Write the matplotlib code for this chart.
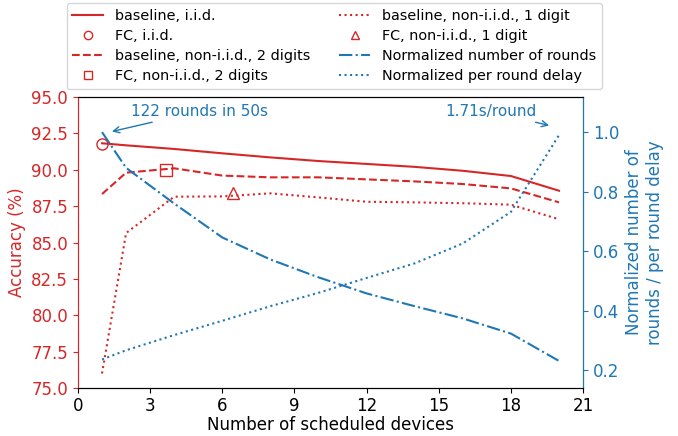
import matplotlib
matplotlib.use("Agg")
import matplotlib.pyplot as plt

# number of scheduled devices
dispositivos = [1, 2, 4, 6, 8, 10, 12, 14, 16, 18, 20]

acc_iid = [91.82, 91.68, 91.43, 91.13, 90.85, 90.6, 90.4, 90.2, 89.93, 89.57, 88.56]
acc_2dig = [88.33, 89.8, 90.1, 89.6, 89.48, 89.48, 89.34, 89.2, 89.02, 88.72, 87.76]
acc_1dig = [76.0, 85.65, 88.15, 88.17, 88.38, 88.1, 87.8, 87.76, 87.7, 87.6, 86.6]

rondas_norm = [1.0, 0.88, 0.76, 0.646, 0.572, 0.512, 0.458, 0.415, 0.374, 0.323, 0.231]
retardo_norm = [0.236, 0.267, 0.318, 0.366, 0.415, 0.46, 0.51, 0.559, 0.626, 0.732, 0.99]

# FC points
fc_iid = (1, 91.8)
fc_2dig = (3.66, 90.0)
fc_1dig = (6.46, 88.4)

rojo = "#d62728"
azul = "#1f77b4"

fig = plt.figure(figsize=(6.78, 4.36), dpi=100)
ax = fig.add_axes([0.115, 0.110, 0.745, 0.6675])
ax2 = ax.twinx()

l1, = ax.plot(dispositivos, acc_iid, color=rojo, ls="-", lw=1.5, label="baseline, i.i.d.")
m1, = ax.plot([fc_iid[0]], [fc_iid[1]], color=rojo, ls="none", marker="o", ms=8,
              mfc="none", label="FC, i.i.d.")
l2, = ax.plot(dispositivos, acc_2dig, color=rojo, ls="--", lw=1.5,
              label="baseline, non-i.i.d., 2 digits")
m2, = ax.plot([fc_2dig[0]], [fc_2dig[1]], color=rojo, ls="none", marker="s", ms=8,
              mfc="none", label="FC, non-i.i.d., 2 digits")
l3, = ax.plot(dispositivos, acc_1dig, color=rojo, ls=":", lw=1.5,
              label="baseline, non-i.i.d., 1 digit")
m3, = ax.plot([fc_1dig[0]], [fc_1dig[1]], color=rojo, ls="none", marker="^", ms=8,
              mfc="none", label="FC, non-i.i.d., 1 digit")

l4, = ax2.plot(dispositivos, rondas_norm, color=azul, ls="-.", lw=1.5,
               label="Normalized number of rounds")
l5, = ax2.plot(dispositivos, retardo_norm, color=azul, ls=":", lw=1.5,
               label="Normalized per round delay")

ax.set_xlim(0, 21)
ax.set_xticks(range(0, 22, 3))
ax.set_ylim(75, 95)
ax.set_yticks([75 + 2.5 * i for i in range(9)])
ax.set_yticklabels([f"{75 + 2.5 * i:.1f}" for i in range(9)])
ax2.set_ylim(0.14, 1.118)
ax2.set_yticks([0.2, 0.4, 0.6, 0.8, 1.0])

ax.set_xlabel("Number of scheduled devices", fontsize=12, labelpad=1)
ax.set_ylabel("Accuracy (%)", color=rojo, fontsize=12)
ax2.set_ylabel("Normalized number of\nrounds / per round delay", color=azul, fontsize=12)

ax.tick_params(axis="x", labelsize=12, pad=3)
ax.tick_params(axis="y", colors=rojo, labelsize=12)
ax2.tick_params(axis="y", colors=azul, labelsize=12)
ax.spines["left"].set_color(rojo)
ax2.spines["left"].set_color(rojo)
ax2.spines["right"].set_color(azul)

ax2.annotate("122 rounds in 50s", xy=(1.3, 1.0), xytext=(2.2, 1.07),
             color=azul, fontsize=11, va="center",
             arrowprops=dict(arrowstyle="->", color=azul, lw=1))
ax2.annotate("1.71s/round", xy=(19.7, 1.02), xytext=(15.26, 1.07),
             color=azul, fontsize=11, va="center",
             arrowprops=dict(arrowstyle="->", color=azul, lw=1))

manejadores = [l1, m1, l2, m2, l3, m3, l4, l5]
fig.legend(manejadores, [h.get_label() for h in manejadores], ncol=2,
           loc="lower center", bbox_to_anchor=(0.493, 0.796), fontsize=10.4,
           borderaxespad=0, labelspacing=0.42, handlelength=2.15,
           handletextpad=0.8, columnspacing=2.0, markerscale=0.75)

fig.savefig("out.png", dpi=100)
